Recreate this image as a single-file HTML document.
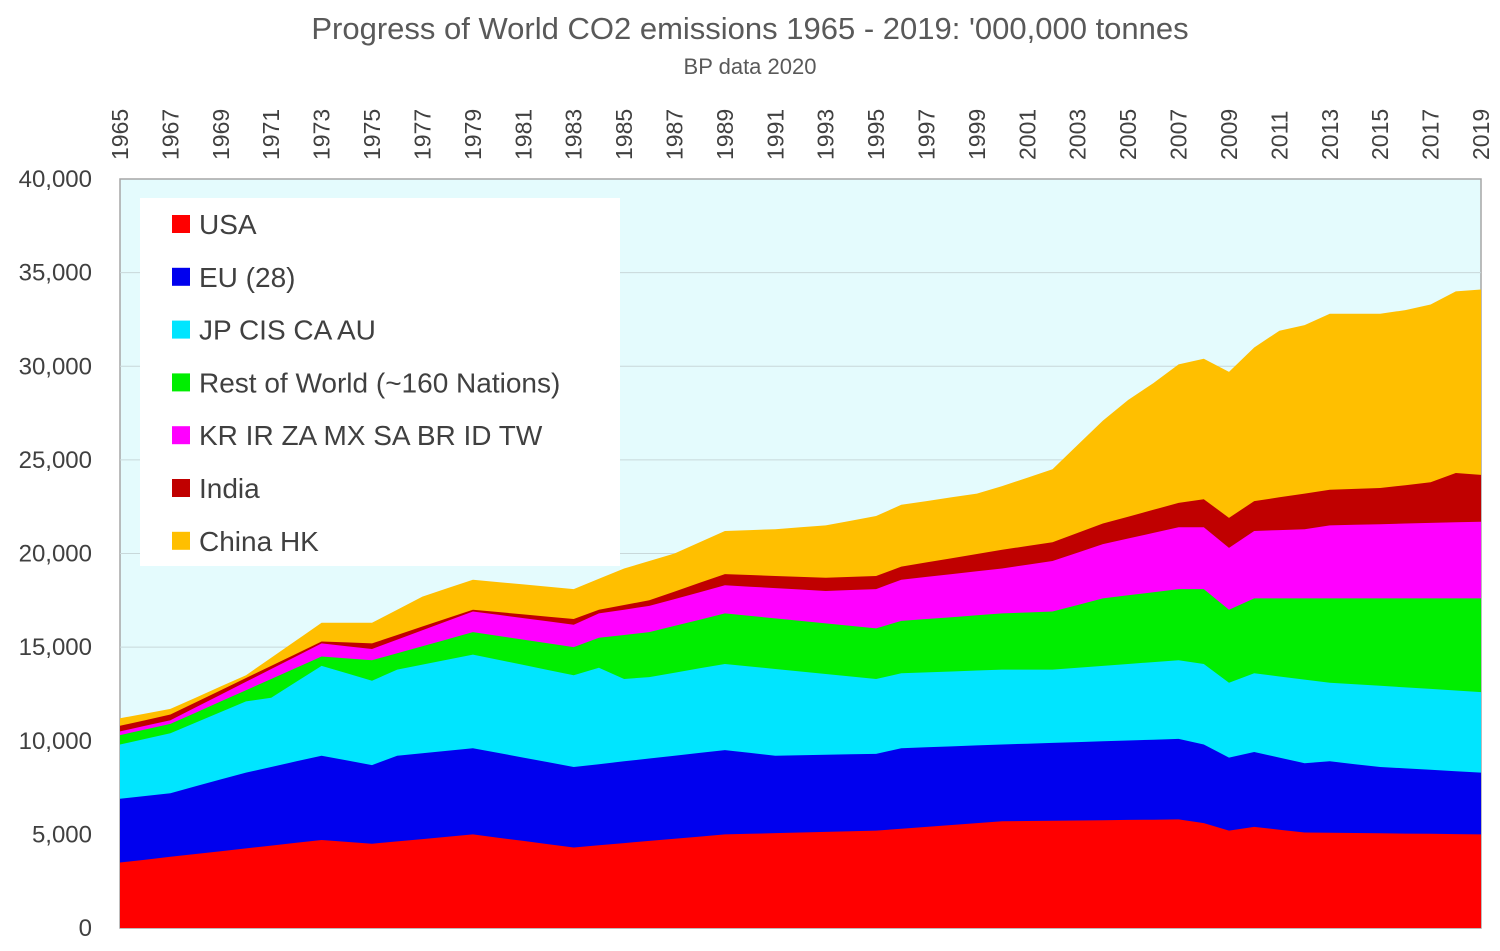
<!DOCTYPE html>
<html><head><meta charset="utf-8">
<style>
html,body{margin:0;padding:0;background:#fff;}
body{width:1500px;height:946px;overflow:hidden;font-family:"Liberation Sans",sans-serif;}
</style></head>
<body>
<svg id="c" width="1500" height="946" xmlns="http://www.w3.org/2000/svg" font-family="Liberation Sans, sans-serif"></svg>
<script>
const X0=120,X1=1481,Y0=928,YT=179;
const xs=y=>X0+(y-1965)*(X1-X0)/54;
const ys=v=>Y0-v*(Y0-YT)/40000;
function interp(k){const out=[];const ks=Object.keys(k).map(Number).sort((a,b)=>a-b);
for(let y=1965;y<=2019;y++){let i=0;while(i<ks.length-1&&ks[i+1]<y)i++;
let a=ks[i],b=ks[Math.min(i+1,ks.length-1)];if(y<=a){out.push(k[a]);continue;}
out.push(k[a]+(k[b]-k[a])*(y-a)/(b-a));}return out;}
const tops=[
 interp({1965:3500,1973:4700,1975:4500,1979:5000,1983:4300,1989:5000,1995:5200,2000:5700,2007:5800,2008:5600,2009:5200,2010:5400,2012:5100,2019:5000}),
 interp({1965:6900,1967:7200,1970:8300,1973:9200,1975:8700,1976:9200,1979:9600,1983:8600,1989:9500,1991:9200,1995:9300,1996:9600,2000:9800,2007:10100,2008:9800,2009:9100,2010:9400,2012:8800,2013:8900,2015:8600,2019:8300}),
 interp({1965:9800,1967:10400,1970:12100,1971:12300,1973:14000,1975:13200,1976:13800,1979:14600,1983:13500,1984:13900,1985:13300,1986:13400,1989:14100,1995:13300,1996:13600,2000:13800,2002:13800,2007:14300,2008:14100,2009:13100,2010:13600,2013:13100,2019:12600}),
 interp({1965:10300,1967:10900,1973:14500,1975:14300,1979:15800,1983:15000,1984:15500,1986:15800,1989:16800,1995:16000,1996:16400,2000:16800,2002:16900,2004:17600,2007:18100,2008:18100,2009:17000,2010:17600,2019:17600}),
 interp({1965:10500,1967:11100,1973:15200,1975:14900,1979:16900,1983:16200,1984:16800,1986:17200,1989:18300,1993:18000,1995:18100,1996:18600,2000:19200,2002:19600,2004:20500,2007:21400,2008:21400,2009:20300,2010:21200,2012:21300,2013:21500,2019:21700}),
 interp({1965:10800,1967:11400,1973:15300,1975:15200,1979:17000,1983:16500,1984:17000,1986:17500,1989:18900,1993:18700,1995:18800,1996:19300,2000:20200,2002:20600,2004:21600,2007:22700,2008:22900,2009:21900,2010:22800,2013:23400,2015:23500,2017:23800,2018:24300,2019:24200}),
 interp({1965:11200,1967:11700,1970:13500,1973:16300,1975:16300,1977:17700,1979:18600,1983:18100,1985:19200,1987:20000,1989:21200,1991:21300,1993:21500,1995:22000,1996:22600,1999:23200,2000:23600,2002:24500,2003:25800,2004:27100,2005:28200,2006:29100,2007:30100,2008:30400,2009:29700,2010:31000,2011:31900,2012:32200,2013:32800,2015:32800,2016:33000,2017:33300,2018:34000,2019:34100})
];
const cols=["#ff0000","#0000ee","#00e5ff","#00ee00","#ff00ff","#c00000","#ffbf00"];
const names=["USA","EU (28)","JP CIS CA AU","Rest of World (~160 Nations)","KR IR ZA MX SA BR ID TW","India","China HK"];
let s='';
s+=`<rect x="${X0}" y="${YT}" width="${X1-X0}" height="${Y0-YT}" fill="#e4fbfd" stroke="#a6a6a6" stroke-width="1.5"/>`;
for(let v=5000;v<40000;v+=5000){s+=`<line x1="${X0}" x2="${X1}" y1="${ys(v)}" y2="${ys(v)}" stroke="#c8d8da" stroke-width="1"/>`;}
for(let i=6;i>=0;i--){let p=[];for(let y=0;y<55;y++)p.push(xs(1965+y).toFixed(1)+','+ys(tops[i][y]).toFixed(1));
p.push(X1+','+Y0);p.push(X0+','+Y0);s+=`<polygon points="${p.join(' ')}" fill="${cols[i]}"/>`;}
for(let v=0;v<=40000;v+=5000){let t=v==0?'0':v.toLocaleString('en-US');
s+=`<text x="92" y="${ys(v)+8}" text-anchor="end" font-size="24" fill="#404040">${t}</text>`;}
for(let y=1965;y<=2019;y+=2){let x=xs(y)+8;s+=`<text transform="translate(${x},160) rotate(-90)" font-size="23" fill="#404040">${y}</text>`;}
s+=`<rect x="140" y="198" width="480" height="368" fill="#fff"/>`;
for(let i=0;i<7;i++){let yy=224+i*52.8;s+=`<rect x="172" y="${yy-9}" width="18" height="18" fill="${cols[i]}"/>`;
s+=`<text x="199" y="${yy+10}" font-size="28" fill="#404040">${names[i]}</text>`;}
s+=`<text x="750" y="39" text-anchor="middle" font-size="31" fill="#595959">Progress of World CO2 emissions 1965 - 2019:  '000,000 tonnes</text>`;
s+=`<text x="750" y="74" text-anchor="middle" font-size="22" fill="#595959">BP data 2020</text>`;
document.getElementById('c').innerHTML=s;
</script>
</body></html>
